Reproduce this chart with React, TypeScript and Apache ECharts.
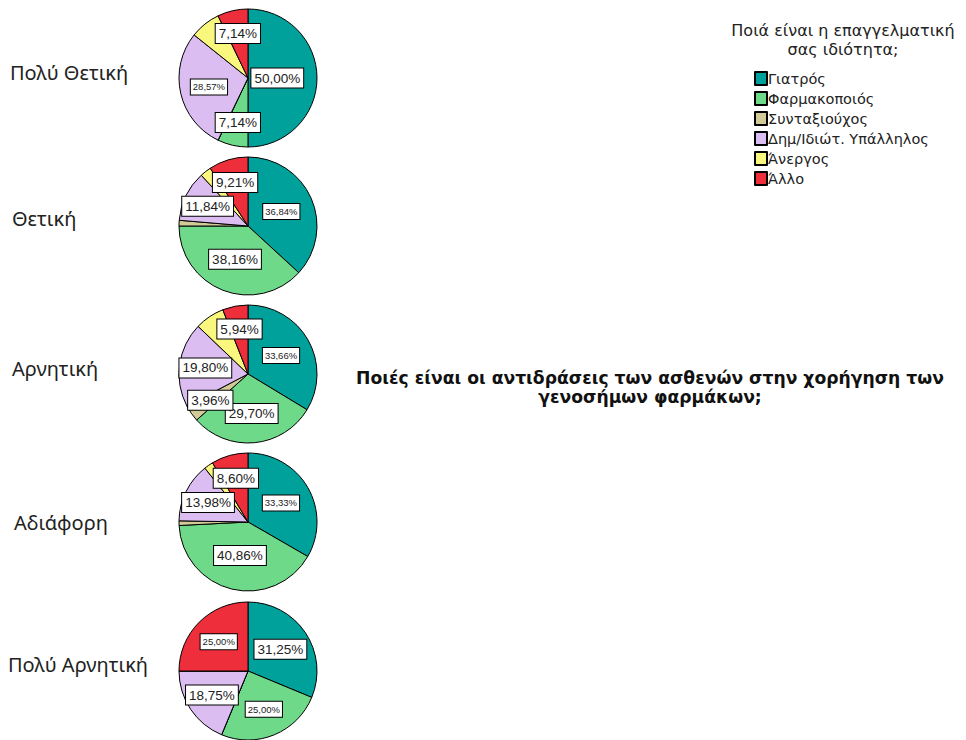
import React, { useEffect, useRef } from "react";
import * as echarts from "echarts";

// Professions (legend order, clockwise from 12 o'clock)
const professions = [
  "Γιατρός",
  "Φαρμακοποιός",
  "Συνταξιούχος",
  "Δημ/Ιδιώτ. Υπάλληλος",
  "Άνεργος",
  "Άλλο",
];

// Patient reactions (one pie per row)
const reactions = ["Πολύ Θετική", "Θετική", "Αρνητική", "Αδιάφορη", "Πολύ Αρνητική"];

// Percentages per reaction, in profession order
const veryPositive = [50.0, 7.14, 0, 28.57, 7.14, 7.14];
const positive = [36.84, 38.16, 1.32, 11.84, 2.63, 9.21];
const negative = [33.66, 29.7, 3.96, 19.8, 6.93, 5.94];
const indifferent = [33.33, 40.86, 1.08, 13.98, 2.15, 8.6];
const veryNegative = [31.25, 25.0, 0, 18.75, 0, 25.0];

const pieValues = [veryPositive, positive, negative, indifferent, veryNegative];

// Labels that are not printed (overlapping tiny slices)
const hiddenLabels = [[4], [2, 4], [4], [2, 4], []];
// Labels printed in the compact face
const compactLabels = [[3], [0], [0], [0], [1, 5]];

const chartTitle = "Ποιές είναι οι αντιδράσεις των ασθενών στην χορήγηση των\nγενοσήμων φαρμάκων;";
const legendTitle = "Ποιά είναι η επαγγελματική\nσας ιδιότητα;";

const colors = ["#00a19b", "#6fd98a", "#d3cb97", "#dcbdf1", "#f9f77d", "#ee2f3b"];

const PIE_X = 248;
const PIE_Y = [78, 226, 374, 522, 671];
const PIE_R = 69;
const ROW_LABEL_X = [10, 12, 12, 14, 8];
const ROW_LABEL_Y = [75, 221, 371, 525, 667];

const fmt = (v: number) => v.toFixed(2).replace(".", ",") + "%";

// Distance of a sector's area centroid from the pie centre, for a slice of the given share
const centroidDistance = (share: number, r: number) => {
  const half = share * Math.PI; // half of the sector angle
  if (half <= 0) return r / 2;
  return ((2 / 3) * r * Math.sin(half)) / half;
};

export default function App() {
  const ref = useRef<HTMLDivElement>(null);

  useEffect(() => {
    if (!ref.current) return;
    const chart = echarts.init(ref.current, null, { renderer: "svg" });

    const series = pieValues.map((vals, si) => {
      const total = vals.reduce((a, b) => a + b, 0);
      return {
        type: "pie",
        name: reactions[si],
        center: [PIE_X, PIE_Y[si]],
        radius: PIE_R,
        startAngle: 90,
        clockwise: true,
        avoidLabelOverlap: false,
        emphasis: { disabled: true },
        itemStyle: { borderColor: "#000", borderWidth: 1 },
        labelLine: { show: false },
        data: vals.map((v, i) => {
          const hide = v === 0 || hiddenLabels[si].includes(i);
          const compact = compactLabels[si].includes(i);
          return {
            name: professions[i],
            value: v,
            itemStyle: { color: colors[i] },
            label: {
              show: !hide,
              position: "inside",
              formatter: () => fmt(v),
              color: "#222",
              fontFamily: "Liberation Sans, Arial, sans-serif",
              fontSize: compact ? 9.5 : 13.5,
              backgroundColor: "#fff",
              borderColor: "#000",
              borderWidth: 1,
              padding: compact ? [3, 2, 2, 2] : [3, 3, 2, 3],
            },
          };
        }),
        // move each label to its slice's area centroid
        labelLayout: (p: any) => {
          const r = p.labelRect;
          if (!r) return {};
          const cy = PIE_Y[p.seriesIndex];
          const lx = r.x + r.width / 2;
          const ly = r.y + r.height / 2;
          const dist = Math.hypot(lx - PIE_X, ly - cy);
          if (dist < 1) return {};
          const target = centroidDistance(vals[p.dataIndex] / total, PIE_R);
          const f = target / dist - 1;
          return { dx: (lx - PIE_X) * f, dy: (ly - cy) * f };
        },
      };
    });

    const rowTitles = reactions.map((t, i) => ({
      text: t,
      left: ROW_LABEL_X[i],
      top: ROW_LABEL_Y[i] - 13,
      padding: 0,
      textStyle: {
        fontFamily: "Noto Sans, sans-serif",
        fontSize: 20,
        fontWeight: "normal",
        color: "#222",
      },
    }));

    chart.setOption({
      animation: false,
      backgroundColor: "#fff",
      color: colors,
      title: [
        {
          text: chartTitle,
          left: 650,
          top: 368,
          padding: 0,
          textAlign: "center",
          textStyle: {
            fontFamily: "DejaVu Sans, sans-serif",
            fontSize: 17.2,
            fontWeight: "bold",
            color: "#111",
            lineHeight: 19,
            align: "center",
          },
        },
        {
          text: legendTitle,
          left: 843,
          top: 21,
          padding: 0,
          textAlign: "center",
          textStyle: {
            fontFamily: "DejaVu Sans, sans-serif",
            fontSize: 16,
            fontWeight: "normal",
            color: "#222",
            lineHeight: 19,
            align: "center",
          },
        },
        ...rowTitles,
      ],
      legend: {
        orient: "vertical",
        left: 754,
        top: 71,
        padding: 0,
        icon: "rect",
        itemWidth: 12,
        itemHeight: 13,
        itemGap: 5,
        selectedMode: false,
        data: professions,
        textStyle: {
          fontFamily: "DejaVu Sans, sans-serif",
          fontSize: 14.5,
          color: "#222",
          padding: [0, 0, 0, -4],
        },
      },
      series,
    });

    return () => chart.dispose();
  }, []);

  return (
    <div
      ref={ref}
      style={{ position: "absolute", left: 0, top: 0, width: 966, height: 740 }}
    />
  );
}
